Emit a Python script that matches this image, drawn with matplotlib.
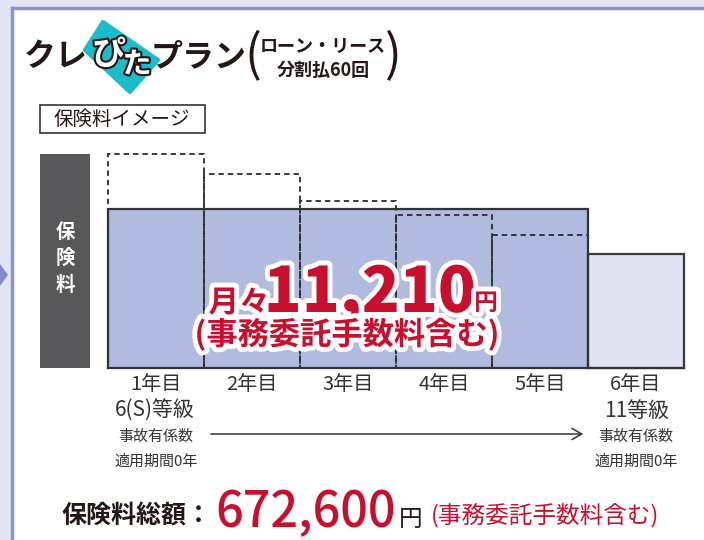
import matplotlib
matplotlib.use("Agg")
import matplotlib.pyplot as plt
import matplotlib.patheffects as pe
from matplotlib.patches import Rectangle, Polygon, FancyArrowPatch

plt.rcParams['font.family'] = ['Noto Sans CJK JP', 'DejaVu Sans']

# ---- data ----
years = ["1年目", "2年目", "3年目", "4年目", "5年目", "6年目"]
conventional = [214, 194, 167, 153, 133]     # dashed: normal premium (relative)
plan_fixed = [159, 159, 159, 159, 159]       # plan premium years 1-5 (relative)
after_plan = 114                              # year 6 premium (relative)
grade_start = "6(S)等級"
grade_end = "11等級"
monthly_text = "11,210"
total_text = "672,600"

W, H = 704, 540
fig = plt.figure(figsize=(W / 100, H / 100), dpi=100)
fig.patch.set_facecolor('#e2e4f3')

def P(x, y):
    return (x / W, 1 - y / H)

# white panel with border
fig.patches.append(Rectangle(P(12, 540), (W - 12) / W, (540 - 8) / H, transform=fig.transFigure,
                             facecolor='white', edgecolor='none', zorder=-5))
fig.lines.append(plt.Line2D([12 / W, 12 / W], [0, 1 - 8 / H], transform=fig.transFigure,
                            color='#8a93cf', lw=2.5, zorder=-4))
fig.lines.append(plt.Line2D([12 / W, 1], [1 - 8 / H, 1 - 8 / H], transform=fig.transFigure,
                            color='#8a93cf', lw=2.5, zorder=-4))
fig.patches.append(Polygon([P(0, 264), P(8, 275), P(0, 286)], closed=True, transform=fig.transFigure,
                           facecolor='#7f89cc', edgecolor='none', zorder=-4))

# ---- chart ----
x0, x1, yb, ytop = 108, 684, 368, 140
ax = fig.add_axes([x0 / W, 1 - yb / H, (x1 - x0) / W, (yb - ytop) / H])
ax.set_xlim(0, 6)
ax.set_ylim(0, yb - ytop)
ax.axis('off')
idx = list(range(6))
ax.bar(idx[:5], plan_fixed, width=1, align='edge', color='#b1badf', edgecolor='none', zorder=1)
ax.plot([0, 0, 5, 5], [0, plan_fixed[0], plan_fixed[-1], 0], color='#333333', lw=1.6, zorder=3,
        solid_joinstyle='miter', clip_on=False)
ax.bar(5, after_plan, width=1, align='edge', color='#e1e3f2', edgecolor='#3a3a3a', lw=1.6, zorder=1,
       clip_on=False)
ax.bar(idx[:5], conventional, width=1, align='edge', fill=False, edgecolor='#2a2a2a',
       linestyle=(0, (3, 2.2)), lw=1.3, zorder=2, clip_on=False)
ax.plot([0, 6], [0, 0], color='#333333', lw=1.6, zorder=4, clip_on=False)

# gray side label
fig.patches.append(Rectangle(P(40, 368), 50 / W, (368 - 154) / H, transform=fig.transFigure,
                             facecolor='#58585a', edgecolor='none'))
for ch, yy in zip("保険料", [232, 258, 285]):
    fig.text(*P(65, yy), ch, color='white', fontsize=14, fontweight='bold', ha='center', va='center')

# ---- logo ----
fig.patches.append(Polygon([P(103, 22), P(158, 60), P(130, 92), P(85, 50)], closed=True,
                           transform=fig.transFigure, facecolor='#1dbccb', edgecolor='#1dbccb',
                           lw=3, joinstyle='round'))
fig.text(*P(56, 57), "クレ", fontsize=23, fontweight='bold', color='#231815', ha='center', va='center')
stroke = [pe.withStroke(linewidth=3, foreground='#231815')]
fig.text(*P(109, 55), "ぴ", fontsize=24, fontweight='bold', color='white', ha='center', va='center',
         path_effects=stroke)
fig.text(*P(137, 64), "た", fontsize=21, fontweight='bold', color='white', ha='center', va='center',
         path_effects=stroke)
fig.text(*P(199, 57), "プラン", fontsize=23, fontweight='bold', color='#231815', ha='center', va='center')
fig.text(*P(253, 56), "(", fontsize=36, color='#231815', ha='center', va='center')
fig.text(*P(393, 56), ")", fontsize=36, color='#231815', ha='center', va='center')
fig.text(*P(323, 46), "ローン・リース", fontsize=13, fontweight='bold', color='#231815', ha='center', va='center')
fig.text(*P(323, 70), "分割払60回", fontsize=13, fontweight='bold', color='#231815', ha='center', va='center')

# image label box
fig.patches.append(Rectangle(P(40, 133), 165 / W, 28 / H, transform=fig.transFigure,
                             facecolor='white', edgecolor='#333333', lw=1.2))
fig.text(*P(122, 119), "保険料イメージ", fontsize=14, color='#231815', ha='center', va='center')

# ---- monthly premium ----
red = '#c8102e'
ws = [pe.withStroke(linewidth=7, foreground='white')]
fig.text(*P(239, 312), "月々", fontsize=22, fontweight='bold', color=red, ha='center', va='baseline',
         path_effects=ws)
fig.text(*P(370, 312), monthly_text, fontsize=45, fontweight='heavy', color=red, ha='center',
         va='baseline', path_effects=ws)
fig.text(*P(486, 310), "円", fontsize=17, fontweight='bold', color=red, ha='center', va='baseline',
         path_effects=ws)
fig.text(*P(347, 335), "(事務委託手数料含む)", fontsize=22.5, fontweight='bold', color=red, ha='center',
         va='center', path_effects=ws)

# ---- x labels ----
for i, lab in enumerate(years):
    xc = x0 + 96 * i + 48
    fig.text(*P(xc, 385), lab, fontsize=14.5, color='#333333', ha='center', va='center')
fig.text(*P(155, 411), grade_start, fontsize=15, color='#333333', ha='center', va='center')
fig.text(*P(637, 411), grade_end, fontsize=15, color='#333333', ha='center', va='center')
for xc in (156, 636):
    fig.text(*P(xc, 437), "事故有係数", fontsize=10.8, color='#333333', ha='center', va='center')
    fig.text(*P(xc, 462), "適用期間0年", fontsize=10.8, color='#333333', ha='center', va='center')
fig.add_artist(FancyArrowPatch(P(208, 434), P(586, 434), transform=fig.transFigure,
                               arrowstyle='->,head_length=7,head_width=4',
                               color='#333333', lw=1.1))

# ---- total ----
fig.text(*P(136, 516), "保険料総額：", fontsize=18, fontweight='bold', color='#231815', ha='center',
         va='center')
fig.text(*P(306, 527), total_text, fontsize=35, fontweight='medium', color=red, ha='center', va='baseline')
fig.text(*P(411, 526), "円", fontsize=17, color='#231815', ha='center', va='baseline')
fig.text(*P(545, 515), "(事務委託手数料含む)", fontsize=17, color=red, ha='center', va='center')

fig.savefig("out.png", dpi=100, facecolor=fig.get_facecolor())
